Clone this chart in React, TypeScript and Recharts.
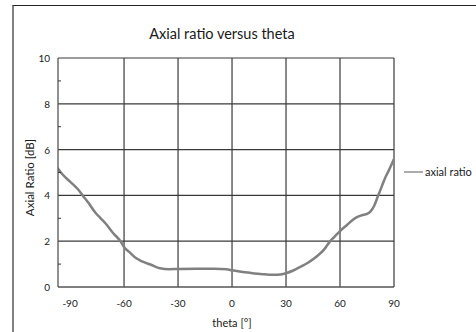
import React from 'react';
import { LineChart, Line, XAxis, YAxis, ReferenceLine, Legend } from 'recharts';

const thetaValues = [-97, -94, -90, -86, -83, -80, -76, -73, -70, -66, -62, -60, -57, -54, -50, -45, -40, -35, -30, -20, -10, -3, 0, 5, 10, 17, 23, 27, 30, 34, 38, 42, 45, 48, 51, 54, 57, 60, 64, 67, 70, 73, 75, 77, 79, 81, 83, 85, 87, 90];
const axialRatioValues = [5.2, 4.9, 4.6, 4.3, 4.0, 3.7, 3.25, 3.0, 2.75, 2.35, 2.0, 1.75, 1.52, 1.3, 1.12, 0.97, 0.82, 0.78, 0.79, 0.8, 0.8, 0.77, 0.73, 0.67, 0.62, 0.56, 0.53, 0.55, 0.6, 0.72, 0.88, 1.05, 1.21, 1.4, 1.62, 1.95, 2.2, 2.44, 2.72, 2.93, 3.07, 3.15, 3.19, 3.3, 3.55, 3.95, 4.35, 4.75, 5.07, 5.59];

const xTicks = [-90, -60, -30, 0, 30, 60, 90];
const yTicks = [0, 1, 2, 3, 4, 5, 6, 7, 8, 9, 10];
const xGridLines = [-60, -30, 0, 30, 60, 90];
const yGridLines = [2, 4, 6, 8, 10];

const seriesName = 'axial ratio';
const chartTitle = 'Axial ratio versus theta';
const xLabel = 'theta [°]';
const yLabel = 'Axial Ratio [dB]';

const data = thetaValues.map((t, i) => ({ theta: t, ar: axialRatioValues[i] }));

const FONT = 'Lato, "DejaVu Sans", sans-serif';
const TEXT = '#1a1a1a';
const GRID = '#3a3a3a';

function YTick(props: any) {
  const { x, y, payload } = props;
  if (payload.value % 2 === 1) {
    return <line x1={x + 8} x2={x + 11} y1={y} y2={y} stroke={GRID} strokeWidth={1} />;
  }
  return (
    <text x={x} y={y} textAnchor="end" dominantBaseline="central" fontSize={10} fontFamily={FONT} fill={TEXT}>
      {payload.value}
    </text>
  );
}

function XTick(props: any) {
  const { x, y, payload } = props;
  return (
    <text x={x} y={y + 8} textAnchor="middle" dominantBaseline="central" fontSize={10} fontFamily={FONT} fill={TEXT}>
      {payload.value}
    </text>
  );
}

function YLabel(props: any) {
  const vb = props.viewBox;
  const cx = vb.x + vb.width / 2;
  const cy = vb.y + vb.height / 2 + 5;
  return (
    <text x={cx} y={cy} transform={`rotate(-90, ${cx}, ${cy})`} textAnchor="middle" dominantBaseline="central" fontSize={11.5} fontFamily={FONT} fill={TEXT}>
      {yLabel}
    </text>
  );
}

function XLabel(props: any) {
  const vb = props.viewBox;
  const cx = vb.x + vb.width / 2 + 6;
  const cy = vb.y + 35;
  return (
    <text x={cx} y={cy} textAnchor="middle" dominantBaseline="central" fontSize={11} fontFamily={FONT} fill={TEXT}>
      {xLabel}
    </text>
  );
}

function LegendContent() {
  return (
    <div style={{ display: 'flex', alignItems: 'center', fontFamily: FONT, fontSize: 11, color: TEXT, whiteSpace: 'nowrap' }}>
      <svg width={22} height={4} style={{ marginRight: 1 }}>
        <line x1={2} x2={21} y1={2} y2={2} stroke="#808080" strokeWidth={1.3} />
      </svg>
      <span>{seriesName}</span>
    </div>
  );
}

export default function App() {
  return (
    <div style={{ position: 'absolute', left: 0, top: 0, width: 476, height: 332, background: '#fff', overflow: 'hidden' }}>
      <div style={{ position: 'absolute', left: 12, top: 5, width: 470, height: 340, borderLeft: '2px solid #808080', borderTop: '1.5px solid #222' }} />
      <div style={{ position: 'absolute', left: 0, top: 25, width: 444, textAlign: 'center', fontFamily: FONT, fontSize: 14.5, color: TEXT, lineHeight: 1.2 }}>
        {chartTitle}
      </div>
      <div style={{ position: 'absolute', left: 0, top: 0 }}>
        <LineChart width={476} height={332} data={data} margin={{ top: 58, right: 82, bottom: 15, left: 0 }}>
          <XAxis
            type="number"
            dataKey="theta"
            domain={[-96.7, 90]}
            ticks={xTicks}
            allowDataOverflow
            tickLine={false}
            tick={<XTick />}
            axisLine={{ stroke: '#555', strokeWidth: 1.3 }}
            height={30}
            label={<XLabel />}
          />
          <YAxis
            type="number"
            domain={[0, 10]}
            ticks={yTicks}
            interval={0}
            tickLine={false}
            tick={<YTick />}
            axisLine={{ stroke: '#555', strokeWidth: 1.3 }}
            width={58}
            label={<YLabel />}
          />
          {yGridLines.map((v) => (
            <ReferenceLine key={'y' + v} y={v} stroke={GRID} strokeWidth={1.2} />
          ))}
          {xGridLines.map((v) => (
            <ReferenceLine key={'x' + v} x={v} stroke={GRID} strokeWidth={1.2} />
          ))}
          <Line
            type="monotone"
            dataKey="ar"
            name={seriesName}
            stroke="#808080"
            strokeWidth={2.5}
            dot={false}
            activeDot={false}
            isAnimationActive={false}
          />
          <Legend
            layout="vertical"
            align="center"
            verticalAlign="middle"
            content={<LegendContent />}
            wrapperStyle={{ position: 'absolute', left: 402, top: 165, width: 80, height: 16 }}
          />
        </LineChart>
      </div>
    </div>
  );
}
